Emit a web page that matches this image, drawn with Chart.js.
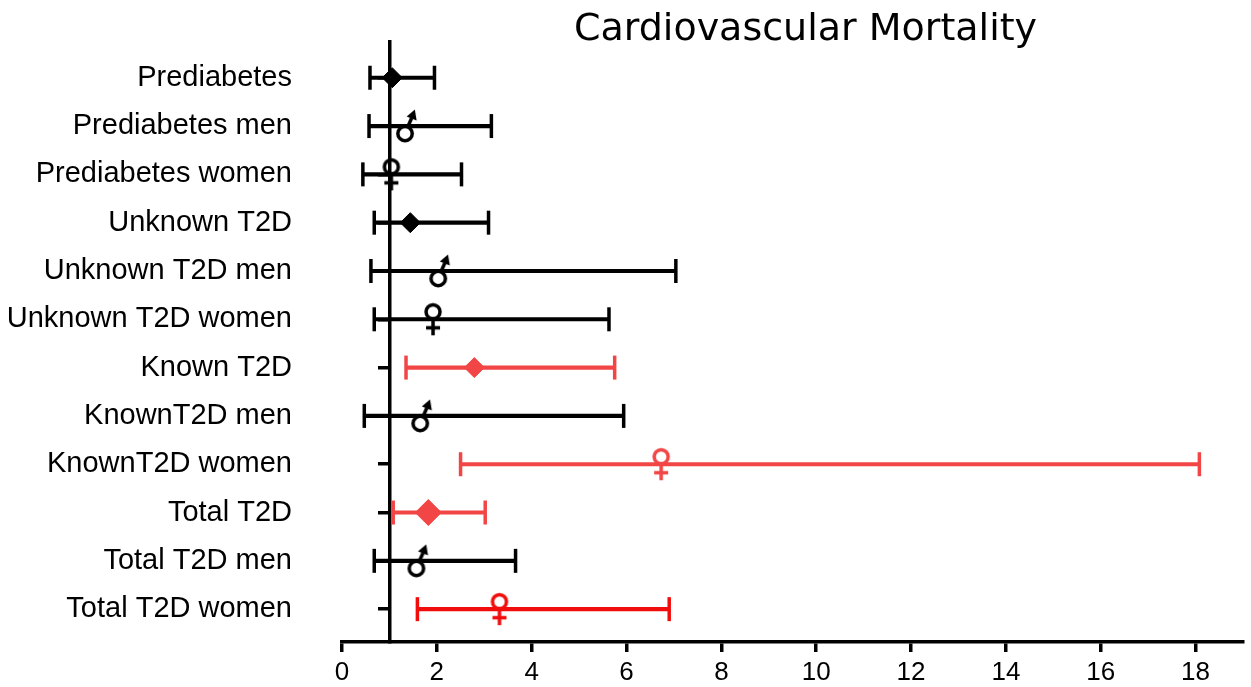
<!DOCTYPE html>
<html>
<head>
<meta charset="utf-8">
<title>Cardiovascular Mortality</title>
<script src="https://cdn.jsdelivr.net/npm/chart.js@4.4.1/dist/chart.umd.min.js"></script>
<style>
  html, body { margin: 0; padding: 0; background: #fff; }
  #wrap { width: 1251px; height: 687px; }
</style>
</head>
<body>
<div id="wrap"><canvas id="forest" width="1251" height="687"></canvas></div>
<script>
// rows, top to bottom
const groups = [
  'Prediabetes', 'Prediabetes men', 'Prediabetes women',
  'Unknown T2D', 'Unknown T2D men', 'Unknown T2D women',
  'Known T2D', 'KnownT2D men', 'KnownT2D women',
  'Total T2D', 'Total T2D men', 'Total T2D women'
];
// hazard ratio estimate and 95% CI
const estimate = [1.06, 1.35, 1.04, 1.44, 2.05, 1.92, 2.79, 1.67, 6.73, 1.82, 1.59, 3.32];
const lower = [0.59, 0.57, 0.44, 0.68, 0.61, 0.68, 1.35, 0.47, 2.50, 1.08, 0.68, 1.59];
const upper = [1.95, 3.15, 2.52, 3.09, 7.04, 5.63, 5.75, 5.94, 18.08, 3.02, 3.66, 6.90];
// marker kind per row: d = diamond (all), m = men, f = women
const kind = ['d', 'm', 'f', 'd', 'm', 'f', 'd', 'm', 'f', 'd', 'm', 'f'];
const xTicks = [0, 2, 4, 6, 8, 10, 12, 14, 16, 18];

const BLACK = '#000000';
const RED = '#f24545';
const DEEPRED = '#f20d0d';
const rowColor = [BLACK, BLACK, BLACK, BLACK, BLACK, BLACK, RED, BLACK, RED, RED, BLACK, DEEPRED];

// small canvases used as point styles for the sex symbols
function femaleSymbol(color) {
  const c = document.createElement('canvas');
  c.width = 24;
  c.height = 34;
  const g = c.getContext('2d');
  g.strokeStyle = color;
  g.lineWidth = 3.5;
  g.beginPath();
  g.arc(12, 9.5, 7, 0, Math.PI * 2);
  g.stroke();
  g.beginPath();
  g.moveTo(12, 16.5);
  g.lineTo(12, 33);
  g.moveTo(5, 25.5);
  g.lineTo(19, 25.5);
  g.stroke();
  return c;
}

function maleSymbol(color) {
  const c = document.createElement('canvas');
  c.width = 28;
  c.height = 34;
  const g = c.getContext('2d');
  g.strokeStyle = color;
  g.fillStyle = color;
  g.lineWidth = 3.5;
  g.beginPath();
  g.arc(13, 24.5, 7.2, 0, Math.PI * 2);
  g.stroke();
  const ang = Math.atan2(-22, 9);
  g.beginPath();
  g.moveTo(13 + 7 * Math.cos(ang), 24.5 + 7 * Math.sin(ang));
  g.lineTo(19.6, 9);
  g.stroke();
  g.beginPath();
  g.moveTo(22.8, 0.5);
  g.lineTo(24.6, 11.6);
  g.lineTo(14.6, 7.6);
  g.closePath();
  g.fill();
  return c;
}

const markerStyle = kind.map((k, i) => {
  if (k === 'm') return maleSymbol(rowColor[i]);
  if (k === 'f') return femaleSymbol(rowColor[i]);
  return 'rectRot';
});
const markerRadius = groups.map((g, i) => (i === 9 ? 13 : 10));

const rowTicks = (scale) => {
  scale.ticks = groups.map((g, i) => ({ value: i + 1 }));
};

const rowAxis = {
  type: 'linear',
  min: 0.26,
  max: 12.68,
  reverse: true,
  offset: false,
  afterBuildTicks: rowTicks,
};

// the title sits a little right of the plot centre in the original
const titleShift = {
  id: 'titleShift',
  afterLayout(chart) {
    if (chart.titleBlock) chart.titleBlock.left += 26;
  },
};

const ctx = document.getElementById('forest');
const forestChart = new Chart(ctx, {
  type: 'bar',
  plugins: [titleShift],
  data: {
    datasets: [
      {
        // point estimates
        type: 'scatter',
        order: 0,
        data: estimate.map((v, i) => ({ x: v, y: i + 1 })),
        pointStyle: markerStyle,
        pointRadius: markerRadius,
        pointBackgroundColor: rowColor,
        pointBorderColor: rowColor,
        pointBorderWidth: 1,
        clip: false,
        yAxisID: 'y',
      },
      {
        // lower CI caps
        type: 'scatter',
        order: 1,
        data: lower.map((v, i) => ({ x: v, y: i + 1 })),
        pointStyle: 'line',
        rotation: 90,
        pointRadius: 12,
        pointBorderWidth: 3.5,
        pointBorderColor: rowColor,
        clip: false,
        yAxisID: 'y',
      },
      {
        // upper CI caps
        type: 'scatter',
        order: 1,
        data: upper.map((v, i) => ({ x: v, y: i + 1 })),
        pointStyle: 'line',
        rotation: 90,
        pointRadius: 12,
        pointBorderWidth: 3.5,
        pointBorderColor: rowColor,
        clip: false,
        yAxisID: 'y',
      },
      {
        // CI whiskers as floating bars
        type: 'bar',
        order: 2,
        data: lower.map((v, i) => ({ x: [v, upper[i]], y: i + 1 })),
        backgroundColor: rowColor,
        borderWidth: 0,
        barThickness: 3.5,
        yAxisID: 'y',
      },
    ],
  },
  options: {
    indexAxis: 'y',
    responsive: false,
    animation: false,
    events: [],
    layout: { autoPadding: false, padding: { left: 8, right: 8, top: 0, bottom: 0 } },
    plugins: {
      legend: { display: false },
      tooltip: { enabled: false },
      title: {
        display: true,
        text: 'Cardiovascular Mortality',
        fullSize: false,
        color: '#000',
        font: { family: 'DejaVu Sans', size: 38, weight: 'normal', lineHeight: 1.2 },
        padding: { top: 7, bottom: -10.6 },
      },
    },
    scales: {
      x: {
        type: 'linear',
        position: 'bottom',
        min: 0,
        max: 19,
        afterBuildTicks: (scale) => {
          scale.ticks = xTicks.map((v) => ({ value: v }));
        },
        afterFit: (scale) => {
          scale.height = 45;
          scale.paddingLeft = 0;
          scale.paddingRight = 0;
        },
        border: { display: true, color: '#000', width: 3.5 },
        grid: {
          drawOnChartArea: false,
          drawTicks: true,
          tickLength: 10,
          color: '#000',
          lineWidth: 3.5,
        },
        ticks: {
          color: '#000',
          padding: 5,
          maxRotation: 0,
          font: { family: '"Liberation Sans", Arial', size: 26 },
        },
      },
      y: {
        ...rowAxis,
        position: 'left',
        afterFit: (scale) => {
          scale.width = 334;
          scale.paddingTop = 0;
          scale.paddingBottom = 0;
        },
        border: { display: false },
        grid: { display: false, offset: false },
        ticks: {
          color: '#000',
          padding: 42,
          font: { family: '"Liberation Sans", Arial', size: 29 },
          callback: (value) => groups[value - 1] || '',
        },
      },
      y2: {
        ...rowAxis,
        axis: 'y',
        position: { x: 1 },
        afterFit: (scale) => {
          scale.paddingTop = 0;
          scale.paddingBottom = 0;
        },
        border: { display: true, color: '#000', width: 3.5 },
        grid: {
          offset: false,
          drawOnChartArea: false,
          drawTicks: true,
          tickLength: 10,
          color: '#000',
          lineWidth: 3.5,
        },
        ticks: { display: false },
      },
    },
  },
});
</script>
</body>
</html>
